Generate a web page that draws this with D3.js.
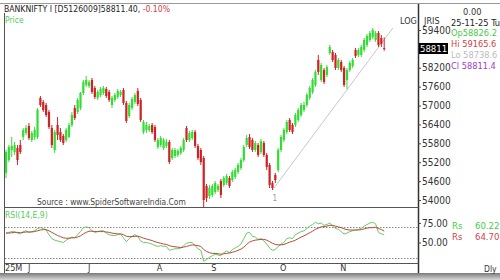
<!DOCTYPE html>
<html><head><meta charset="utf-8">
<script src="https://cdn.jsdelivr.net/npm/d3@7"></script>
<style>
html,body{margin:0;padding:0;background:#fff;}
svg{display:block;}
text{font-family:"Liberation Sans Narrow","DejaVu Sans Condensed","Liberation Sans",sans-serif;}
</style></head>
<body><svg id="c" width="500" height="280"></svg>
<script>
// ---------- DATA ----------
const opens = [54858,55271,55589,55525,55652,55747,56001,56129,56351,55906,56001,56001,57241,57114,57018,56796,56288,55589,56383,56160,
56033,55906,56001,56383,56923,56796,56923,57399,57654,57622,57812,57558,57241,57336,57399,57526,57431,57018,57177,57272,
57336,57495,57082,56669,56923,57114,57463,57177,56160,56224,56224,56383,56319,55684,55747,55652,55716,55843,55334,55398,
55430,55493,55589,56288,55906,55970,56160,55716,55589,55334,54445,54127,54159,54254,54318,54604,54477,54540,54699,54635,
54731,54890,55017,55271,55747,56001,55906,55589,55747,55525,55811,55430,55112,54540,54794,54953,55589,55906,56160,56542,
56383,56383,56542,56700,56859,57018,57241,57431,57654,58448,57812,58130,57971,58670,58702,58607,58194,58384,58194,57812,
58130,58257,58766,58607,58607,58766,58924,59083,59179,59083,59306,59147,58826.2];
const highs = [55589,55747,56001,55843,55747,55906,56288,56383,56446,56192,56319,56923,57304,57177,57082,56859,56383,56224,56637,56288,
56097,56288,56446,56796,57018,57241,57431,57812,57940,57812,57876,57622,57495,57590,57622,57590,57495,57304,57399,57526,
57495,57558,57145,57082,57272,57399,57558,57241,56542,56478,56415,56446,56383,55970,56033,55970,55938,55906,55652,55652,
55620,55716,55970,56351,56192,56224,56224,55779,55652,55398,54508,54477,54508,54604,54508,54667,54763,54826,54763,54953,
55017,55176,55334,55747,56065,56097,55970,55874,55811,55938,55874,55493,55176,54604,54858,55652,56065,56288,56542,56605,
56446,56764,56923,57082,57114,57399,57622,57876,58130,58607,58353,58194,58289,58924,58766,58670,58512,58448,58257,58194,
58416,58512,58829,58829,58924,59147,59274,59369,59464,59369,59369,59242,59165.6];
const lows = [54699,55207,55366,55430,55112,55461,55906,56065,55906,55843,55906,55938,56955,56796,56637,56256,55652,55493,55906,55843,
55747,55843,55970,56319,56542,56732,56859,57336,57590,57558,57368,57209,57177,57272,57336,57241,57114,56923,57114,57209,
57272,57018,56446,56605,56859,57050,56986,56478,56097,56129,56160,56097,55843,55620,55684,55589,55652,55144,55271,55334,
55366,55430,55525,55843,55843,55906,55652,55271,55112,53778,53937,54032,54095,54191,54254,54064,54413,54477,54381,54572,
54667,54826,54953,55207,55684,55620,55525,55525,55366,55461,55366,54953,54381,54318,54540,54890,55525,55843,56097,56160,
56097,56319,56478,56637,56796,56955,57177,57368,57590,57971,57749,57685,57908,58607,58384,58130,58130,58067,57590,57526,
58067,58194,58512,58543,58543,58702,58861,59020,59115,59020,58861,58861,58738.6];
const closes = [55525,55684,55716,55747,55271,55525,56224,56288,55970,56129,56224,56859,57018,56859,56700,56319,55747,56160,56065,55906,
55811,56224,56383,56700,56605,57177,57399,57749,57812,57749,57431,57272,57431,57526,57558,57304,57177,57241,57336,57463,
57431,57082,56510,57018,57209,57336,57050,56542,56478,56383,56351,56160,55906,55906,55970,55906,55843,55207,55589,55589,
55557,55652,55906,55906,56129,56160,55716,55334,55207,54000,54064,54381,54445,54540,54445,54159,54699,54763,54445,54890,
54953,55112,55271,55684,55970,55684,55589,55811,55430,55874,55430,55049,54477,54381,54635,55589,56001,56224,56478,56224,
56160,56700,56859,57018,57018,57336,57558,57812,58067,58067,58289,57749,58225,58861,58448,58194,58448,58130,57654,58130,
58353,58448,58575,58766,58861,59083,59210,59306,59401,59306,58924,58956,58811.4];
const rsiValues = [62,63,64,64,62,61,64,65,63,64,65,68,69,68,66,60,55,53,52,51,
50,53,55,57,56,60,64,69,70,69,65,63,64,65,65,62,60,59,59,60,
61,56,51,55,58,60,58,52,50,50,49,48,46,45,46,45,45,40,41,42,
42,43,46,49,50,50,46,42,40,26,28,31,33,35,34,33,37,39,37,41,
43,45,48,55,62,63,58,57,54,55,52,48,43,40,41,45,48,50,55,56,
55,60,62,64,65,68,71,73,76,74,75,72,73,75,71,68,67,64,61,62,
64,65,66,67,68,71,73,75,76,74,63,61,60.22];
const signalValues = [62,62,62.5,63,63,62.5,63,63.5,63.5,63.5,64,65,66,66.5,66.5,65,63,61,59,57.5,
56,55.5,55.5,56,56,57,58.5,61,63,64.5,64.5,64,64,64,64,63.5,63,62,61.5,61,
61,60,58,57.5,57.5,58,58,57,55.5,54.5,53.5,52.5,51,50,49,48,47.5,46,45,44.5,
44,43.5,44,45,46,47,46.5,46,45,41,38.5,37,36,36,35.5,35,35.5,36,36.5,37.5,
38.5,40,41.5,44,47.5,50.5,52,53,53.5,54,54,53,51,49,47.5,47,47,47.5,49,50.5,
51.5,53,55,57,58.5,60.5,62.5,64.5,67,68.5,70,70.5,71,72,72,71,70,69,67.5,66.5,
66,66,66,66,66.5,67.5,68.5,69,69,69.5,68,66.5,64.70];
const priceTicks = [54000,54600,55200,55800,56400,57000,57600,58200,59400];
const rsiTicks = [75,50];
const rsiLevels = [70,30];
const monthLabels = ["25M","J","J","A","S","O","N"];
const monthIndex = [0,8,29,53,72,96,117];
const trendIdx = [93,135];
const trendVal = [54318,59460];
const lastClose = "58811.4";
const infoLines = [["0.00","#333"],["25-11-25 Tu","#222"],["Op58826.2","#44cc44"],["Hi 59165.6","#cc4444"],["Lo 58738.6","#bbbbbb"],["Cl 58811.4","#a040c0"]];

// ---------- DRAW ----------
const svg = d3.select("#c");
const n = closes.length;
const x = d3.scaleLinear().domain([0, n - 1]).range([6, 384.2]);
const y = d3.scaleLinear().domain([54000, 59400]).range([200, 30]);
const ry = d3.scaleLinear().domain([50, 75]).range([242.5, 223]);
const GREEN = "#33dd33", RED = "#d02222";

// shadow at bottom
const defs = svg.append("defs");
const g1 = defs.append("linearGradient").attr("id","sh").attr("x1",0).attr("y1",0).attr("x2",0).attr("y2",1);
g1.append("stop").attr("offset","0").attr("stop-color","#7a7a7a");
g1.append("stop").attr("offset","1").attr("stop-color","#d8d8d8");
svg.append("rect").attr("x",0).attr("y",273).attr("width",500).attr("height",7).attr("fill","url(#sh)");

// frame lines
const frame = svg.append("g").attr("stroke","#555").attr("stroke-width",1).attr("fill","none");
frame.append("line").attr("x1",0).attr("x2",500).attr("y1",3.5).attr("y2",3.5).attr("stroke","#999");
frame.append("line").attr("x1",4.5).attr("x2",4.5).attr("y1",13).attr("y2",273);
frame.append("line").attr("x1",418.5).attr("x2",418.5).attr("y1",4).attr("y2",273).attr("stroke","#333").attr("stroke-width",1.5);
frame.append("line").attr("x1",4.5).attr("x2",418.5).attr("y1",207.5).attr("y2",207.5);
frame.append("line").attr("x1",4.5).attr("x2",418.5).attr("y1",263.5).attr("y2",263.5);

// title
const t = svg.append("text").attr("x",4).attr("y",12).attr("font-size",8.6).attr("fill","#222");
t.append("tspan").text("BANKNIFTY I [D5126009]58811.40, ");
t.append("tspan").attr("fill","#d04040").text("-0.10%");
svg.append("text").attr("x",5).attr("y",23).attr("font-size",8.5).attr("fill","#55cc55").text("Price");

// watermark
svg.append("text").attr("x",37).attr("y",205).attr("font-size",8.4).attr("fill","#444")
  .text("Source : www.SpiderSoftwareIndia.Com");

// trendline
svg.append("line").attr("x1",x(trendIdx[0])).attr("y1",y(trendVal[0]))
  .attr("x2",x(trendIdx[1])).attr("y2",y(trendVal[1])).attr("stroke","#c8c8c8").attr("stroke-width",1);
svg.append("text").attr("x",x(trendIdx[0])).attr("y",201).attr("font-size",8).attr("fill","#999").text("1");

// candles
const idx = d3.range(n);
const cg = svg.append("g");
cg.selectAll("line.w").data(idx).join("line")
  .attr("x1",i=>x(i)).attr("x2",i=>x(i)).attr("y1",i=>y(highs[i])).attr("y2",i=>y(lows[i]))
  .attr("stroke",i=>closes[i]>=opens[i]?GREEN:RED).attr("stroke-width",1);
cg.selectAll("rect.b").data(idx).join("rect")
  .attr("x",i=>x(i)-1.1).attr("width",2.2)
  .attr("y",i=>y(Math.max(opens[i],closes[i])))
  .attr("height",i=>Math.max(1,Math.abs(y(opens[i])-y(closes[i]))))
  .attr("fill",i=>closes[i]>=opens[i]?GREEN:RED);

// price axis
const ax = svg.append("g").attr("transform","translate(418,0)");
ax.call(d3.axisRight(y).tickValues(priceTicks).tickSize(3).tickFormat(d3.format("d")));
ax.select(".domain").remove();
ax.selectAll(".tick line").attr("stroke","#444");
ax.selectAll(".tick text").attr("font-size",10).attr("fill","#333").attr("x",4)
  .attr("font-family",'"Liberation Sans Narrow","DejaVu Sans Condensed",sans-serif');
svg.append("text").attr("x",400).attr("y",24).attr("font-size",9).attr("fill","#333").text("LOG");
svg.append("text").attr("x",424).attr("y",24).attr("font-size",9).attr("fill","#333").text("JRIS");
svg.append("rect").attr("x",419).attr("y",43).attr("width",29).attr("height",11).attr("fill","#000");
svg.append("text").attr("x",420).attr("y",52).attr("font-size",9.5).attr("fill","#fff").text(lastClose);

// info panel
infoLines.forEach((d,k)=>{
  svg.append("text").attr("x",k===0?463:451).attr("y",15+k*10.7).attr("font-size",9.2).attr("fill",d[1]).text(d[0]);
});

// RSI panel
const lv = svg.append("g");
lv.selectAll("line").data(rsiLevels).join("line")
  .attr("x1",5).attr("x2",418).attr("y1",d=>Math.round(ry(d))+0.5).attr("y2",d=>Math.round(ry(d))+0.5)
  .attr("stroke","#888").attr("stroke-dasharray","1.5,1.5");
const lineG = d3.line().x((d,i)=>x(i)).y(d=>ry(d));
svg.append("path").datum(rsiValues).attr("d",lineG).attr("fill","none").attr("stroke","#66cc66").attr("stroke-width",1);
svg.append("path").datum(signalValues).attr("d",lineG).attr("fill","none").attr("stroke","#b84a3a").attr("stroke-width",1);
svg.append("text").attr("x",5).attr("y",218).attr("font-size",8.5).attr("fill","#55cc55").text("RSI(14,E,9)");
const rax = svg.append("g").attr("transform","translate(418,0)");
rax.call(d3.axisRight(ry).tickValues(rsiTicks).tickSize(3).tickFormat(d3.format(".2f")));
rax.select(".domain").remove();
rax.selectAll(".tick line").attr("stroke","#444");
rax.selectAll(".tick text").attr("font-size",10).attr("fill","#333").attr("x",4)
  .attr("font-family",'"Liberation Sans Narrow","DejaVu Sans Condensed",sans-serif');
svg.append("text").attr("x",452).attr("y",229).attr("font-size",9.5).attr("fill","#44cc44").text("Rs");
svg.append("text").attr("x",475).attr("y",229).attr("font-size",9.5).attr("fill","#44cc44").text(rsiValues[n-1].toFixed(2));
svg.append("text").attr("x",452).attr("y",240).attr("font-size",9.5).attr("fill","#cc4455").text("Rs");
svg.append("text").attr("x",475).attr("y",240).attr("font-size",9.5).attr("fill","#cc4455").text(signalValues[n-1].toFixed(2));

// month labels
svg.selectAll("text.m").data(monthLabels).join("text")
  .attr("x",(d,k)=>x(monthIndex[k])-1).attr("y",271).attr("font-size",9).attr("fill","#333").text(d=>d);
svg.append("text").attr("x",484).attr("y",272).attr("font-size",8.5).attr("fill","#333").text("Dly");
</script></body></html>
